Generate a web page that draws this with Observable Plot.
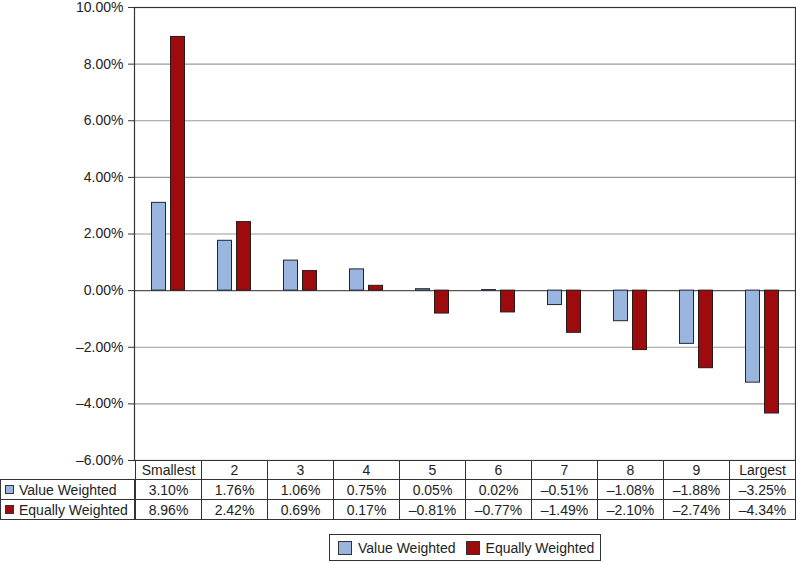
<!DOCTYPE html>
<html><head><meta charset="utf-8">
<script src="https://cdn.jsdelivr.net/npm/d3@7"></script>
<script src="https://cdn.jsdelivr.net/npm/@observablehq/plot@0.6"></script>
<style>
body{margin:0;background:#fff;font-family:"Liberation Sans",Arial,sans-serif;color:#222}
#wrap{position:relative;width:796px;height:562px;overflow:hidden}
#wrap svg{position:absolute;left:0;top:0}
.cell{position:absolute;box-sizing:border-box;border:1px solid #333;font-size:14px;display:flex;align-items:center;justify-content:center;white-space:nowrap;background:#fff}
.lab{justify-content:flex-start}
.sw{display:inline-block;box-sizing:border-box;border:1px solid #333}
#legend{position:absolute;box-sizing:border-box;border:1px solid #333;font-size:14px;display:flex;align-items:center;white-space:nowrap}
</style></head><body><div id="wrap"></div>
<script>
const categories = ["Smallest","2","3","4","5","6","7","8","9","Largest"];
const valueWeighted = [3.10,1.76,1.06,0.75,0.05,0.02,-0.51,-1.08,-1.88,-3.25];
const equallyWeighted = [8.96,2.42,0.69,0.17,-0.81,-0.77,-1.49,-2.10,-2.74,-4.34];
const seriesNames = ["Value Weighted","Equally Weighted"];
const seriesColors = ["#9ab6de","#9e0b0f"];
const yTicks = [-6,-4,-2,0,2,4,6,8,10];

const fmt = d => (d < 0 ? "\u2013" : "") + Math.abs(d).toFixed(2) + "%";
const vwData = categories.map((c,i)=>({cat:c, series:seriesNames[0], v:valueWeighted[i]}));
const ewData = categories.map((c,i)=>({cat:c, series:seriesNames[1], v:equallyWeighted[i]}));

const plot = Plot.plot({
  width:796, height:461, marginTop:7, marginBottom:1, marginLeft:134, marginRight:1,
  style:{fontFamily:"Liberation Sans, Arial, sans-serif", fontSize:"14px", color:"#222", background:"#fff", overflow:"visible"},
  x:{domain:categories, padding:0, axis:null},
  y:{domain:[-6,10], axis:null},
  color:{domain:seriesNames, range:seriesColors},
  marks:[
    Plot.ruleY(yTicks.filter(d=>d!==0 && d!==-6 && d!==10), {stroke:"#9a9a9a", strokeWidth:1.2}),
    Plot.ruleY([0], {stroke:"#555", strokeWidth:1.2}),
    Plot.barY(vwData, {x:"cat", y:"v", fill:"series", stroke:"#1f2633", strokeWidth:1, insetLeft:26, insetRight:26, dx:-9.5}),
    Plot.barY(ewData, {x:"cat", y:"v", fill:"series", stroke:"#2a1a1a", strokeWidth:1, insetLeft:26, insetRight:26, dx:9.5}),
    Plot.frame({stroke:"#333", strokeWidth:1.2}),
    Plot.axisY({ticks:yTicks, tickFormat:fmt, tickSize:6, tickPadding:5, anchor:"left", fontSize:14, stroke:"#333", label:null})
  ]
});
const wrap = document.getElementById("wrap");
wrap.appendChild(plot);

// data table under the chart, aligned on the x scale
const xs = plot.scale("x");
const bw = xs.bandwidth;
const x0 = xs.range[0];
const rowTops = [460, 479, 499, 519];
function cell(left, top, w, h, html, cls){
  const d = document.createElement("div");
  d.className = "cell" + (cls ? " " + cls : "");
  d.style.left = left + "px"; d.style.top = top + "px";
  d.style.width = (w + 1) + "px"; d.style.height = (h + 1) + "px";
  d.innerHTML = html;
  wrap.appendChild(d);
  return d;
}
const rows = [valueWeighted, equallyWeighted];
categories.forEach((c,i)=>{
  const l = xs.apply(c);
  cell(l, rowTops[0], bw, rowTops[1]-rowTops[0], c);
  rows.forEach((arr,r)=>{
    cell(l, rowTops[r+1], bw, rowTops[r+2]-rowTops[r+1], fmt(arr[i]));
  });
});
seriesNames.forEach((s,r)=>{
  cell(0, rowTops[r+1], x0, rowTops[r+2]-rowTops[r+1],
    `<span class="sw" style="width:9px;height:9px;background:${seriesColors[r]};margin-left:4px;margin-right:5px"></span>${s}`, "lab");
});

// legend
const lg = document.createElement("div");
lg.id = "legend";
lg.style.left = "329px"; lg.style.top = "534px"; lg.style.width = "272px"; lg.style.height = "27px";
lg.innerHTML = seriesNames.map((s,i)=>`<span class="sw" style="width:14px;height:14px;background:${seriesColors[i]};margin-left:${i?10:8}px;margin-right:6px"></span><span>${s}</span>`).join("");
wrap.appendChild(lg);
</script>
</body></html>
